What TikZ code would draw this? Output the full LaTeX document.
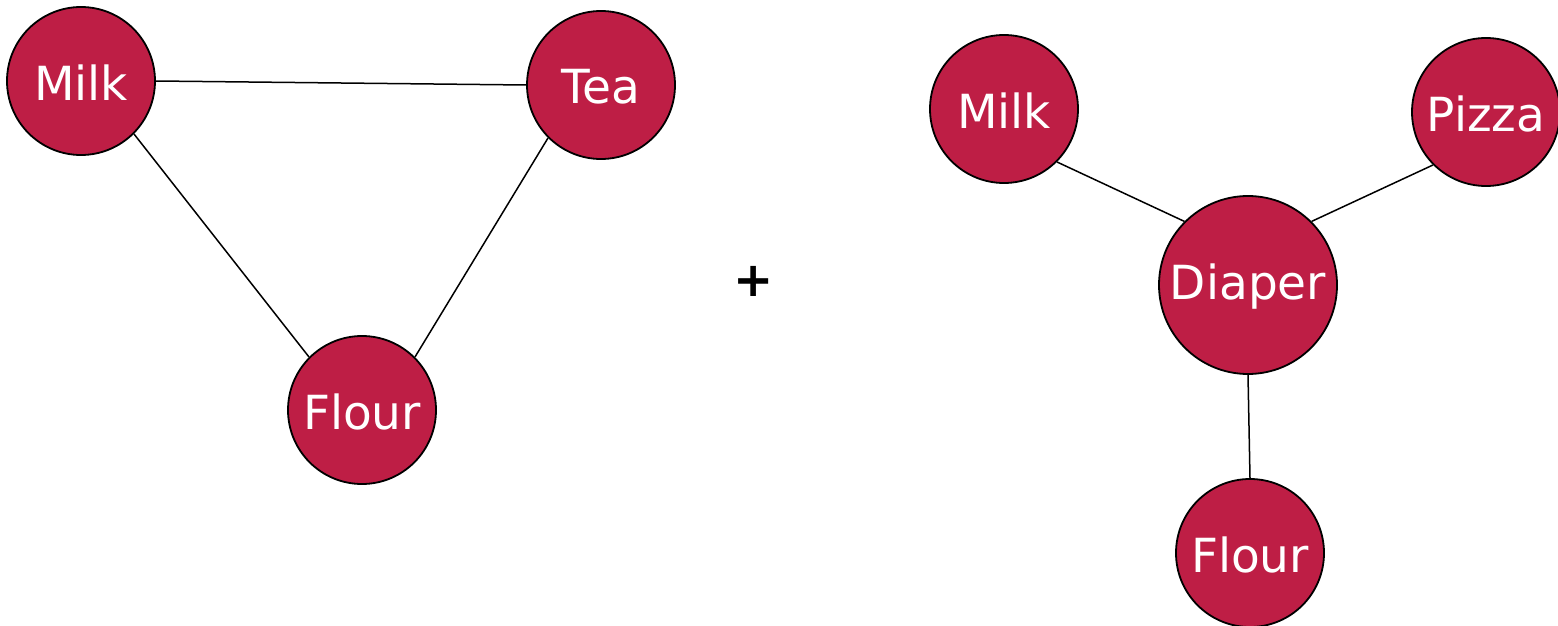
\documentclass[tikz,border=0pt]{standalone}
\usepackage{fontspec}
\setmainfont{DejaVu Sans}
\definecolor{itemred}{HTML}{BE1E45}
\begin{document}
\begin{tikzpicture}[x=0.5pt,y=-0.5pt,
  item/.style={circle,draw=black,line width=0.9pt,fill=itemred,text=white,
    font=\fontsize{23.5}{27}\selectfont,inner sep=0pt,minimum size=74pt},
  bigitem/.style={item,minimum size=89pt},
  label/.style={text=white,font=\fontsize{23.5}{27}\selectfont,yshift=-1pt},
  link/.style={draw=black,line width=0.75pt}]
\useasboundingbox (0,0) rectangle (1558,626);
% first itemset
\node[item] (milkA) at (81,81) {};
\node[item] (tea) at (601,85) {};
\node[item] (flourA) at (362,410) {};
\draw[link] (milkA.east) -- (tea.west);
\draw[link] (milkA.south east) -- (flourA.north west);
\draw[link] (tea.south west) -- (flourA.north east);
\node[label] (milkAt) at (milkA) {Milk};
\node[label] (teat) at (tea) {Tea};
\node[label] (flourAt) at (flourA) {Flour};
% plus sign
\node[font=\fontsize{24}{28}\selectfont] (plus) at (754,281) {\textbf{+}};
% second itemset
\node[bigitem] (diaper) at (1248,285) {};
\node[item] (milkB) at (1004,109) {};
\node[item] (pizza) at (1486,112) {};
\node[item] (flourB) at (1250,553) {};
\draw[link] (milkB.south east) -- (diaper.north west);
\draw[link] (pizza.south west) -- (diaper.north east);
\draw[link] (diaper.south) -- (flourB.north);
\node[label] (diapert) at (diaper) {Diaper};
\node[label] (milkBt) at (milkB) {Milk};
\node[label] (pizzat) at (pizza) {Pizza};
\node[label] (flourBt) at (flourB) {Flour};
\end{tikzpicture}
\end{document}
